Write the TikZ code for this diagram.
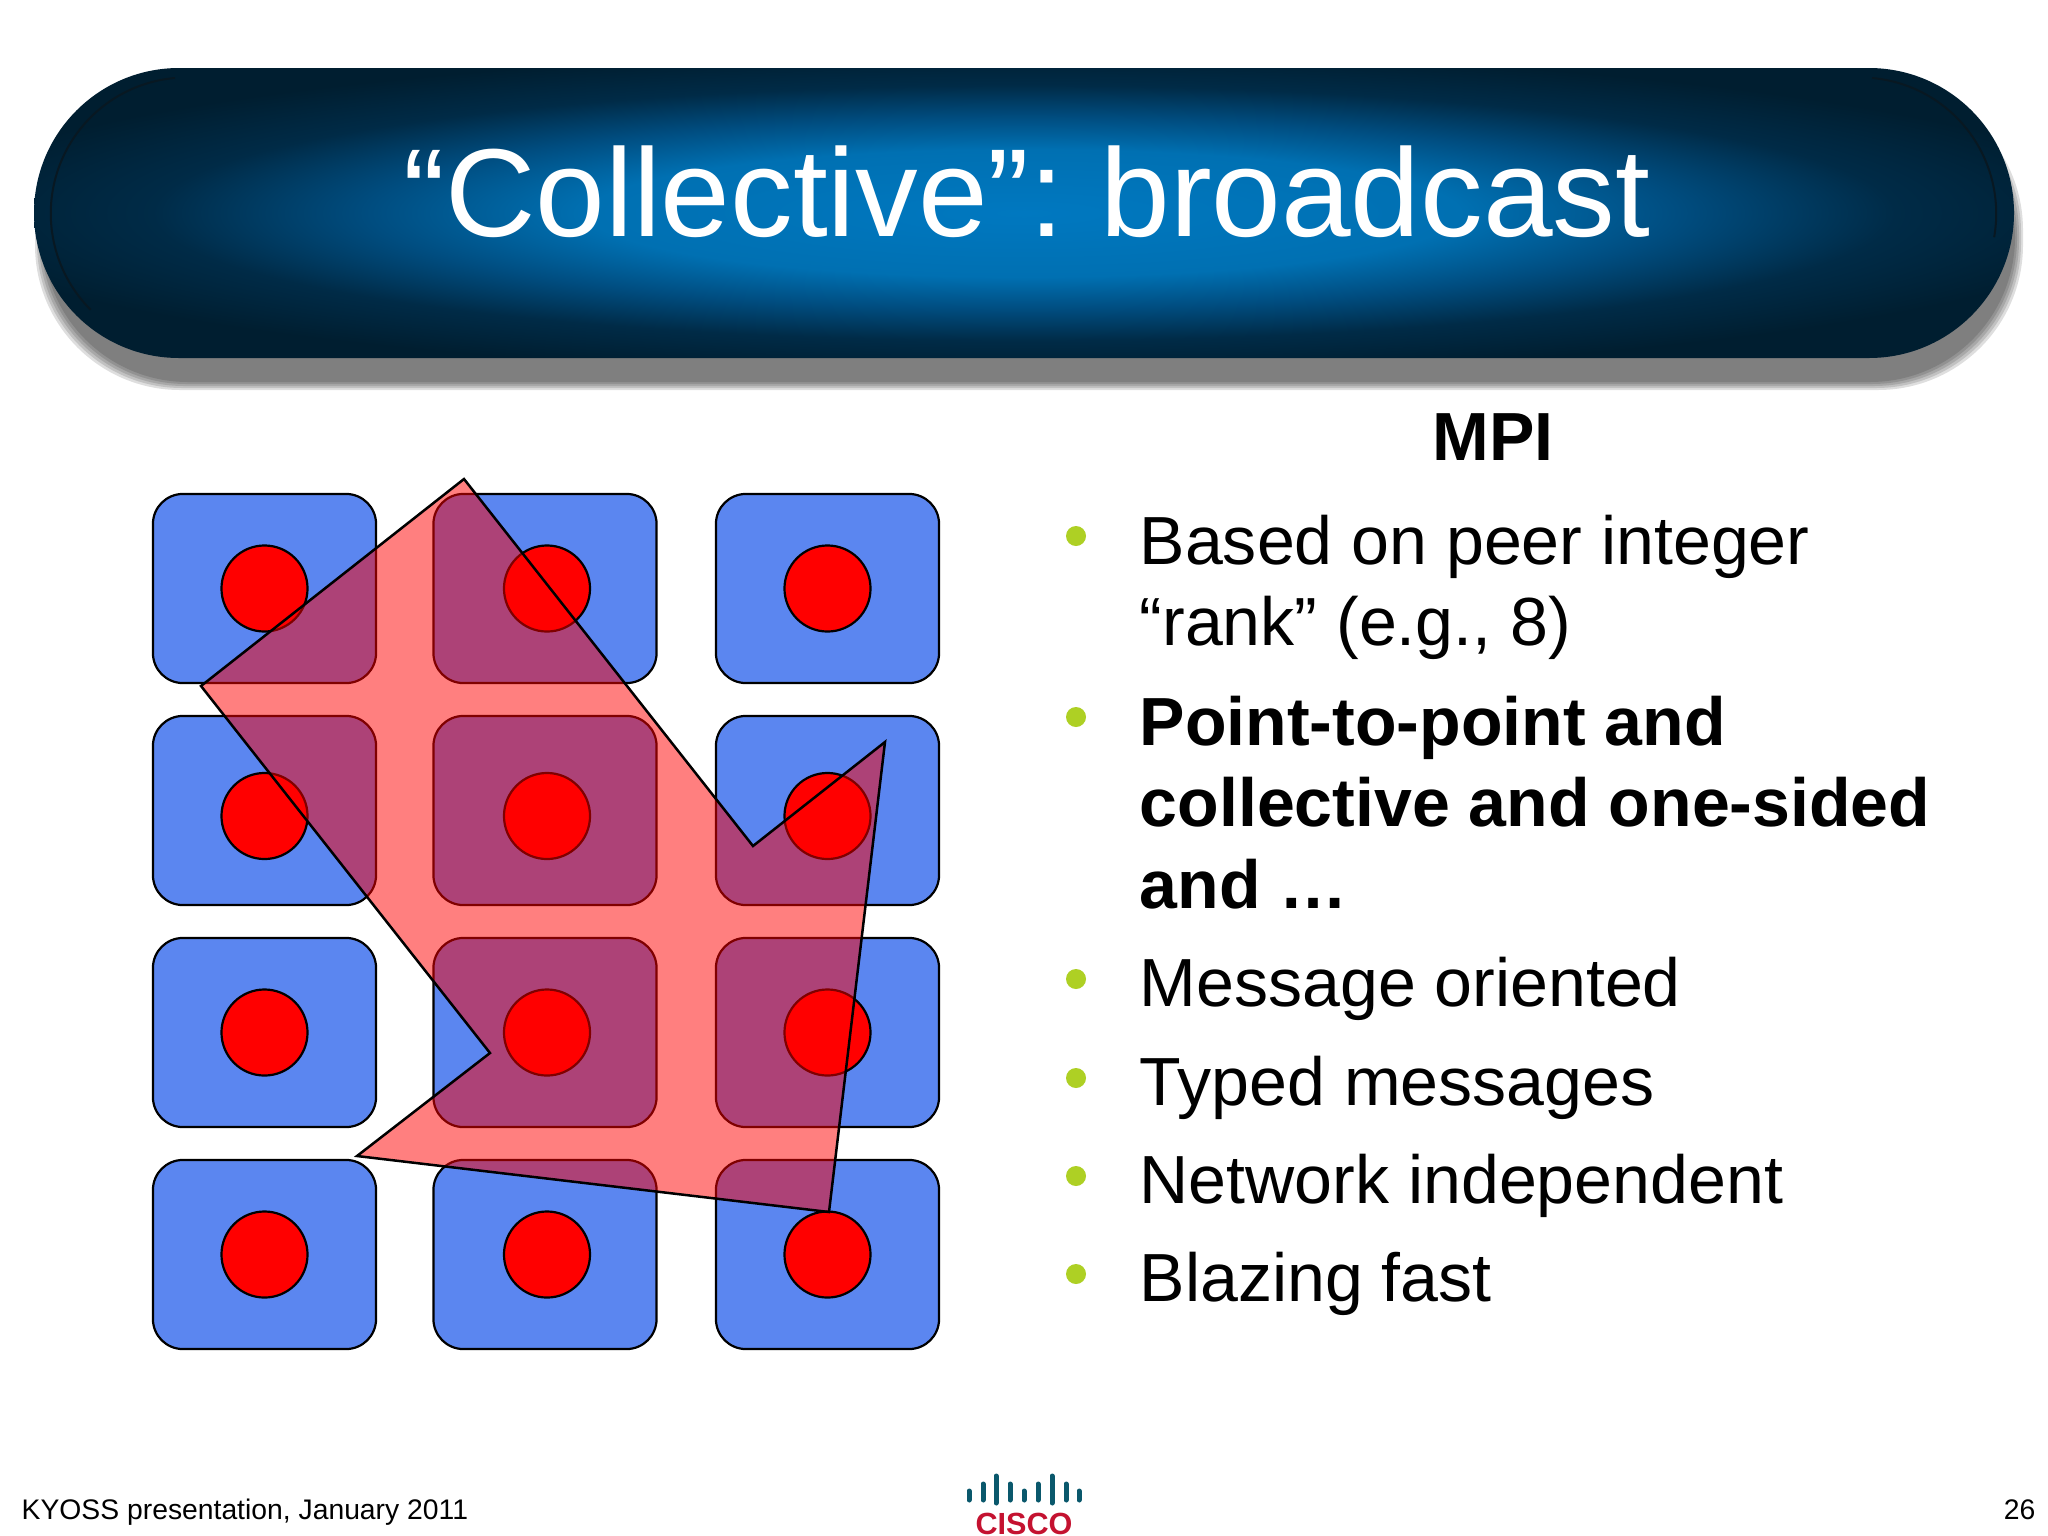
\documentclass[tikz,border=0pt]{standalone}
\usepackage{fontspec}
\setmainfont{Liberation Sans}
\newfontfamily\titlefont[WordSpace=0.7]{Liberation Sans}
\definecolor{boxblue}{RGB}{91,134,240}
\definecolor{pillcore}{RGB}{0,120,192}
\definecolor{pillhigh}{RGB}{0,112,178}
\definecolor{pillmid}{RGB}{0,77,128}
\definecolor{pilldark}{RGB}{0,43,71}
\definecolor{pillrim}{RGB}{0,30,48}
\definecolor{rimline}{RGB}{8,24,34}
\definecolor{bulletgreen}{RGB}{174,208,36}
\definecolor{ciscoteal}{RGB}{10,88,108}
\definecolor{ciscored}{RGB}{196,18,48}
\pgfdeclareradialshading{pillglow}{\pgfpoint{0bp}{0bp}}{%
  color(0bp)=(pillcore); color(11bp)=(pillhigh); color(16.5bp)=(pillmid);
  color(22bp)=(pilldark); color(28bp)=(pillrim); color(50bp)=(pillrim)}
\tikzset{
  cell-box/.style={
    rectangle,
    draw=black,
    fill=boxblue,
    line width=0.022cm,
    rounded corners=0.3cm,
    minimum width=2.23cm,
    minimum height=1.89cm,
    inner sep=0pt
  },
  rank-dot/.style={circle, draw=black, fill=red, line width=0.022cm, minimum size=0.86cm, inner sep=0pt},
  bullet-dot/.style={circle, fill=bulletgreen, minimum size=0.2cm, inner sep=0pt},
  body-text/.style={anchor=base west, inner sep=0pt, align=left, font=\fontsize{19.36}{23.3}\selectfont},
  foot-text/.style={inner sep=0pt, font=\fontsize{8.05}{10}\selectfont},
  logo-bar/.style={line width=0.05cm, line cap=round, draw=ciscoteal}
}
\newcommand{\titlepill}{
  \foreach \g in {7,5,3,1,-1}
    \fill[black, opacity=0.13, rounded corners=1.45cm]
      (42-\g,92-\g) rectangle (2016+\g,383+\g);
  \shade[shading=pillglow, rounded corners=1.45cm] (34,68) rectangle (2014,358);
}
\begin{document}
\begin{tikzpicture}[x=0.01cm, y=-0.01cm]
  \useasboundingbox (0,0) rectangle (2048,1536);
  \fill[white] (0,0) rectangle (2048,1536);
  \titlepill
  % Rim on the two ends
  \draw[rimline, line width=0.02cm] (175,78) arc[start angle=95, end angle=225, radius=1.36cm];
  \draw[rimline, line width=0.02cm] (1872,78) arc[start angle=85, end angle=-10, radius=1.36cm];
  \node[inner sep=0pt, text=white, font=\titlefont\fontsize{35.6}{40}\selectfont] (title) at (1027,192) {“Collective”: broadcast};
  % Grid of boxes
  \foreach \cx/\c/\dx in {264.5/1/0,545/2/2,827.5/3/0}
    \foreach \cy/\r/\dy in {588.5/1/0,810.5/2/5.5,1032.5/3/0,1254.5/4/0}{
      \node[cell-box] (box-\c-\r) at (\cx,\cy) {};
      \node[rank-dot] (dot-\c-\r) at ([shift={(\dx,\dy)}]box-\c-\r) {};
    }
  % Broadcast arrow
  \filldraw[fill=red, fill opacity=0.5, draw=black, line width=0.025cm, line join=miter]
    (464,479) -- (753,846) -- (885,742) -- (829,1212) -- (357,1156) -- (490,1053) -- (201,686) -- cycle;
  % Right column
  \node[inner sep=0pt, font=\bfseries\fontsize{19.36}{23.3}\selectfont, anchor=base] (mpi) at (1493,460) {MPI};
  \foreach \y in {536,717,979,1078,1176,1274}
    \node[bullet-dot] at (1076,\y) {};
  \node[body-text, anchor=north west] (rank) at (1139,514) {Based on peer integer\\“rank” (e.g., 8)};
  \node[body-text, anchor=north west, font=\bfseries\fontsize{19.36}{23.3}\selectfont] (kinds) at (1139,695) {Point-to-point and\\collective and one-sided\\and …};
  \node[body-text] (oriented) at (1139,1006) {Message oriented};
  \node[body-text] (typed) at (1139,1105) {Typed messages};
  \node[body-text] (network) at (1139,1203) {Network independent};
  \node[body-text] (blazing) at (1139,1301) {Blazing fast};
  % Footer
  \node[foot-text, anchor=base west] (venue) at (21,1519) {KYOSS presentation, January 2011};
  \node[foot-text, anchor=base east] (page) at (2036,1519) {26};
  % Logo
  \foreach \x/\t in {969/1491,983/1484,996/1476,1010/1484,1024/1491,1038/1484,1052/1476,1066/1484,1079/1491}
    \draw[logo-bar] (\x,\t) -- (\x,1500);
  \draw[logo-bar] (996,1500) -- (996,1503);
  \draw[logo-bar] (1052,1500) -- (1052,1503);
  \node[inner sep=0pt, anchor=base, text=ciscored, font=\bfseries\fontsize{8.7}{11}\selectfont] (cisco) at (1024,1534.5) {CISCO};
\end{tikzpicture}
\end{document}
